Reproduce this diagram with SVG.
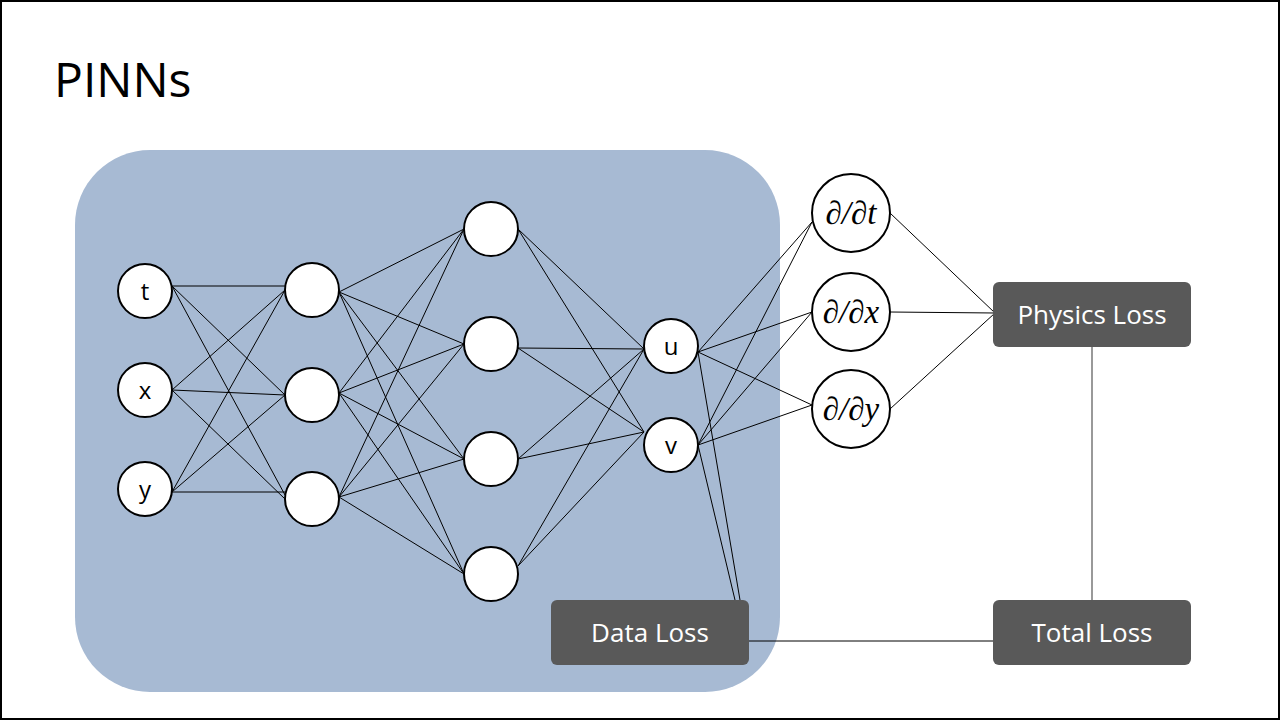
<svg xmlns="http://www.w3.org/2000/svg" width="1280" height="720" viewBox="0 0 1280 720">
<style>
.n{fill:#fff;stroke:#000;stroke-width:2}
.l{stroke:#000;stroke-width:1}
.t{font-family:"Open Sans","Liberation Sans",sans-serif;font-size:24px;text-anchor:middle}
.d{font-family:"Liberation Serif",serif;font-style:italic;font-size:33px;text-anchor:middle}
.b{fill:#595959}
.bt{font-family:"Open Sans","Liberation Sans",sans-serif;font-size:26px;fill:#fff;text-anchor:middle}
</style>
<rect x="0" y="0" width="1280" height="720" fill="#fff"/>
<rect x="1" y="1" width="1278" height="718" fill="none" stroke="#000" stroke-width="2"/>
<text x="54" y="97" font-family="Open Sans,Liberation Sans,sans-serif" font-size="48">PINNs</text>
<rect x="75" y="150" width="705" height="542" rx="75" fill="#a7bad3"/>
<g id="connectors">
<g class="l">
<path d="M172 286L285 286M172 286L285 395M172 286L285 495M172 390L285 290M172 390L285 395M172 390L285 499M172 492L285 290M172 492L285 395M172 492L285 492"/>
<path d="M339 292L464 229M339 292L464 344M339 292L464 459M339 292L464 574M339 393L464 229M339 393L464 344M339 393L464 459M339 393L464 574M339 497L464 229M339 497L464 344M339 497L464 459M339 497L464 574"/>
<path d="M518 229L644 349M518 229L644 432M518 348L644 349M518 348L644 432M518 459L644 349M518 459L644 432M518 566L644 349M518 566L644 432"/>
<path d="M698 352L812 222M698 352L812 312M698 352L812 405M698 445L812 222M698 445L812 312M698 445L812 405"/>
<path d="M890 213L995 313M890 312L995 313M890 409L995 313"/>
<path d="M698 352L740 600M698 445L735 600M749 641L993 641"/>
</g>
<path d="M1092 347L1092 600" stroke="#777" stroke-width="1.5"/>
</g>
<g id="inputs">
<circle class="n" cx="145" cy="291" r="27"/><text class="t" x="145" y="300">t</text>
<circle class="n" cx="145" cy="390" r="27"/><text class="t" x="145" y="399">x</text>
<circle class="n" cx="145" cy="489" r="27"/><text class="t" x="145" y="498">y</text>
</g>
<g id="hidden1">
<circle class="n" cx="312" cy="290" r="27"/><circle class="n" cx="312" cy="395" r="27"/><circle class="n" cx="312" cy="499" r="27"/>
</g>
<g id="hidden2">
<circle class="n" cx="491" cy="229" r="27"/><circle class="n" cx="491" cy="344" r="27"/><circle class="n" cx="491" cy="459" r="27"/><circle class="n" cx="491" cy="574" r="27"/>
</g>
<g id="outputs">
<circle class="n" cx="671" cy="346" r="27"/><text class="t" x="671" y="355">u</text>
<circle class="n" cx="671" cy="445" r="27"/><text class="t" x="671" y="454">v</text>
</g>
<g id="derivs">
<circle class="n" cx="851" cy="213" r="39"/><text class="d" x="851" y="224">∂/∂t</text>
<circle class="n" cx="851" cy="312" r="39"/><text class="d" x="851" y="323">∂/∂x</text>
<circle class="n" cx="851" cy="409" r="39"/><text class="d" x="851" y="420">∂/∂y</text>
</g>
<g id="physics"><rect class="b" x="993" y="282" width="198" height="65" rx="6"/><text class="bt" x="1092" y="324">Physics Loss</text></g>
<g id="total"><rect class="b" x="993" y="600" width="198" height="65" rx="6"/><text class="bt" x="1092" y="642">Total Loss</text></g>
<g id="data"><rect class="b" x="551" y="600" width="198" height="65" rx="6"/><text class="bt" x="650" y="642">Data Loss</text></g>
</svg>
